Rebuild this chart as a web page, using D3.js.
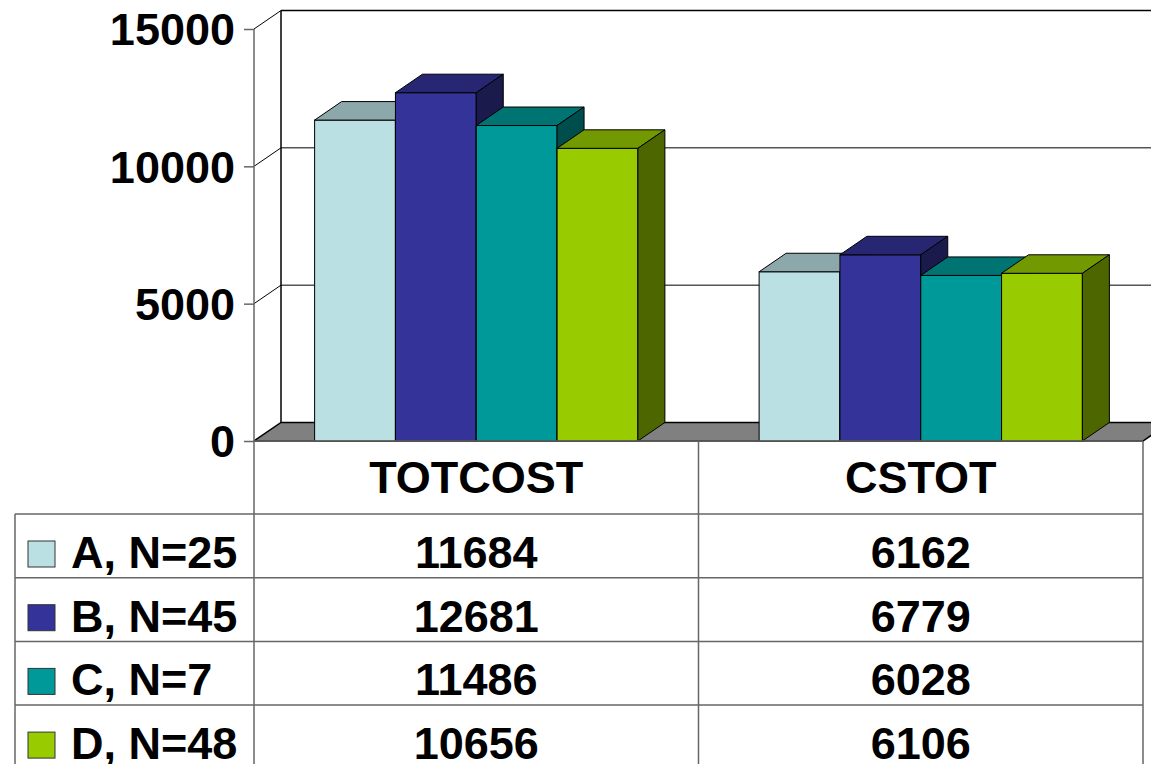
<!DOCTYPE html>
<html>
<head>
<meta charset="utf-8">
<script src="https://cdn.jsdelivr.net/npm/d3@7"></script>
<style>
  body { margin: 0; background: #fff; }
  text { font-family: "Liberation Sans", Arial, sans-serif; font-weight: bold; fill: #000; }
</style>
</head>
<body>
<script>
const w = 1151; // width
const h = 764;  // height

// data
const categories = ["TOTCOST", "CSTOT"];
const series = ["A, N=25", "B, N=45", "C, N=7", "D, N=48"];
const totcost = [11684, 12681, 11486, 10656];
const cstot = [6162, 6779, 6028, 6106];
const yTicks = [0, 5000, 10000, 15000];
const colors = ["#BBE0E3", "#333399", "#009999", "#99CC00"];

const values = [totcost, cstot];

// 3d depth offset
const dx = 27, dy = -18.5;
const left = 254, right = 1143;
const y0 = 441, yTop = 29;

let svg = d3.select("body")
    .append("svg")
    .attr("width", w)
    .attr("height", h);

let y = d3.scaleLinear().domain([0, 15000]).range([y0, yTop]);
let x0 = d3.scaleBand().domain(categories).range([left, right]);
let x1 = d3.scaleBand().domain(series).range([0, x0.bandwidth()])
    .paddingInner(0).paddingOuter(0.75);

function shade(c, k) {
    let r = d3.rgb(c);
    return d3.rgb(r.r * k, r.g * k, r.b * k).formatHex();
}

// walls + gridlines
let walls = svg.append("g");
yTicks.forEach(t => {
    if (t === 0) return;
    walls.append("line")
        .attr("x1", left).attr("y1", y(t))
        .attr("x2", left + dx).attr("y2", y(t) + dy)
        .attr("stroke", "#000").attr("stroke-width", 1);
    walls.append("line")
        .attr("x1", left + dx).attr("y1", y(t) + dy)
        .attr("x2", w + 10).attr("y2", y(t) + dy)
        .attr("stroke", "#000").attr("stroke-width", t === 15000 ? 1.5 : 1);
});
walls.append("line")
    .attr("x1", left + dx).attr("y1", y(15000) + dy)
    .attr("x2", left + dx).attr("y2", y(0) + dy)
    .attr("stroke", "#000").attr("stroke-width", 1.5);

// floor
svg.append("path")
    .attr("d", `M${left},${y0}L${left + dx},${y0 + dy}L${right + dx},${y0 + dy}L${right},${y0}Z`)
    .attr("fill", "#808080")
    .attr("stroke", "#000")
    .attr("stroke-width", 1.5);

// front axis line
svg.append("line")
    .attr("x1", left).attr("y1", yTop)
    .attr("x2", left).attr("y2", h)
    .attr("stroke", "#666").attr("stroke-width", 1.5);

// y axis
let axisY = d3.axisLeft(y).tickValues(yTicks).tickSize(10).tickPadding(9)
    .tickFormat(d3.format("d"));
let gY = svg.append("g")
    .attr("transform", `translate(${left},0)`)
    .call(axisY);
gY.select(".domain").remove();
gY.selectAll(".tick line").attr("stroke", "#666").attr("stroke-width", 1.5);
gY.selectAll(".tick text")
    .attr("font-size", 45)
    .attr("dy", "0.35em")
    .style("font-family", '"Liberation Sans", Arial, sans-serif')
    .style("font-weight", "bold")
    .attr("fill", "#000");

// bars
let bars = svg.append("g");
categories.forEach((cat, ci) => {
    series.forEach((s, si) => {
        let v = values[ci][si];
        let xl = x0(cat) + x1(s);
        let xr = xl + x1.bandwidth();
        let yt = y(v);
        let c = colors[si];
        let g = bars.append("g");
        // front
        g.append("rect")
            .attr("x", xl).attr("y", yt)
            .attr("width", xr - xl).attr("height", y0 - yt)
            .attr("fill", c).attr("stroke", "#000").attr("stroke-width", 1);
        // top
        g.append("path")
            .attr("d", `M${xl},${yt}L${xl + dx},${yt + dy}L${xr + dx},${yt + dy}L${xr},${yt}Z`)
            .attr("fill", shade(c, 0.75)).attr("stroke", "#000").attr("stroke-width", 1);
        // side
        g.append("path")
            .attr("d", `M${xr},${yt}L${xr + dx},${yt + dy}L${xr + dx},${y0 + dy}L${xr},${y0}Z`)
            .attr("fill", shade(c, 0.5)).attr("stroke", "#000").attr("stroke-width", 1);
    });
});

// data table
const headTop = y0, rowTop = 514, rowH = 63.7;
const tableLeft = 15;
let table = svg.append("g");
const lineColor = "#666";

// horizontal lines
table.append("line")
    .attr("x1", left).attr("y1", headTop).attr("x2", right).attr("y2", headTop)
    .attr("stroke", lineColor).attr("stroke-width", 1.5);
series.forEach((s, i) => {
    let yy = rowTop + i * rowH;
    table.append("line")
        .attr("x1", tableLeft).attr("y1", yy).attr("x2", right).attr("y2", yy)
        .attr("stroke", lineColor).attr("stroke-width", 1.5);
});
// vertical lines
table.append("line")
    .attr("x1", tableLeft).attr("y1", rowTop).attr("x2", tableLeft).attr("y2", h)
    .attr("stroke", lineColor).attr("stroke-width", 1.5);
categories.forEach(cat => {
    let xx = x0(cat) + x0.bandwidth();
    table.append("line")
        .attr("x1", xx).attr("y1", headTop).attr("x2", xx).attr("y2", h)
        .attr("stroke", lineColor).attr("stroke-width", 1.5);
});

// header
table.selectAll("text.head")
    .data(categories)
    .enter()
    .append("text")
    .attr("class", "head")
    .attr("x", d => x0(d) + x0.bandwidth() / 2)
    .attr("y", 493)
    .attr("text-anchor", "middle")
    .attr("font-size", 45)
    .text(d => d);

// rows
series.forEach((s, si) => {
    let base = rowTop + si * rowH + 54;
    table.append("rect")
        .attr("x", 28).attr("y", base - 27)
        .attr("width", 27).attr("height", 26)
        .attr("fill", colors[si])
        .attr("stroke", "#333").attr("stroke-width", 1);
    table.append("text")
        .attr("x", 71).attr("y", base)
        .attr("font-size", 45)
        .text(s);
    categories.forEach((cat, ci) => {
        table.append("text")
            .attr("x", x0(cat) + x0.bandwidth() / 2)
            .attr("y", base)
            .attr("text-anchor", "middle")
            .attr("font-size", 45)
            .text(values[ci][si]);
    });
});
</script>
</body>
</html>
